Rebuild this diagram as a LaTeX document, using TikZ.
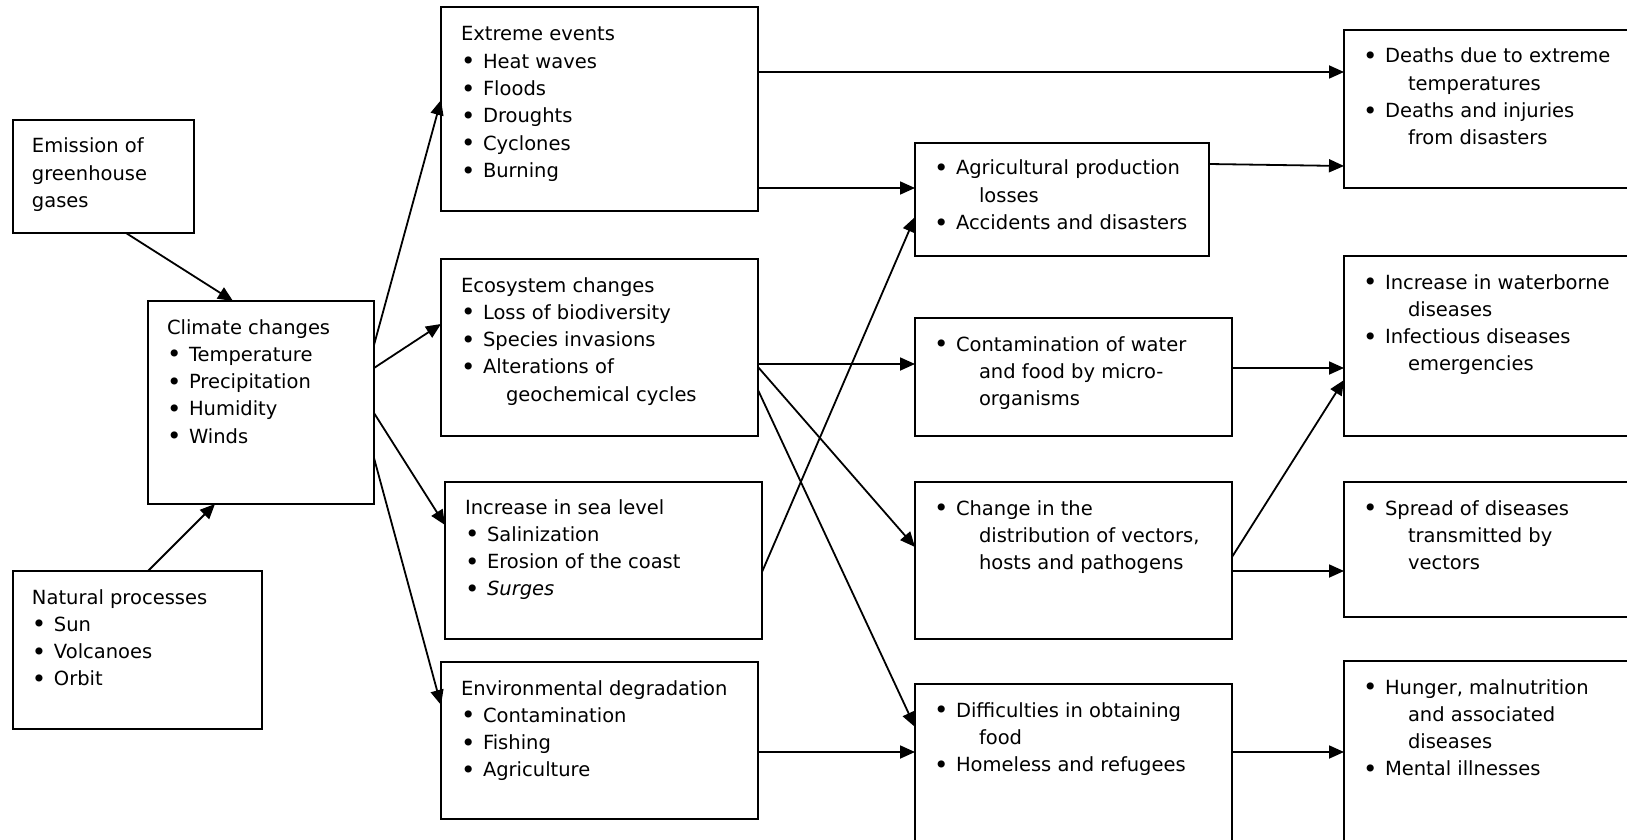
\documentclass[tikz,border=0pt]{standalone}
\usepackage{fontspec}
\usepackage{graphicx}
\setmainfont{DejaVu Sans}
\usetikzlibrary{calc,arrows.meta}
\tikzset{
  box/.style={draw, line width=0.9pt, anchor=north west, inner sep=0pt, outer sep=0pt},
  txt/.style={anchor=base west, inner sep=0pt, outer sep=0pt, font=\fontsize{9.75}{13.65}\selectfont},
  arr/.style={line width=0.9pt, -{Triangle[length=7.5pt,width=6.5pt]}},
  ln/.style={line width=0.9pt}
}
\newcommand\bl{\makebox[11pt][l]{\raisebox{-0.08em}{\scalebox{1.25}{\textbullet}}}}
\newcommand\ct{\hspace*{22.5pt}}
\newcommand\lst[1]{\begin{tabular}[t]{@{}l@{}}#1\end{tabular}}
\begin{document}
\begin{tikzpicture}[x=0.5pt,y=-0.5pt]
\useasboundingbox (0,0) rectangle (1627,840);
\clip (0,0) rectangle (1627,840);
\fill[white] (0,0) rectangle (1627,840);

% boxes
\node[box, minimum width=90.5pt, minimum height=56.5pt] (em) at (13,120) {};
\node[box, minimum width=113pt, minimum height=101.5pt] (cc) at (148,301) {};
\node[box, minimum width=124.5pt, minimum height=79pt] (np) at (13,571) {};
\node[box, minimum width=158.5pt, minimum height=102pt] (ee) at (441,7) {};
\node[box, minimum width=158.5pt, minimum height=88.5pt] (ec) at (441,259) {};
\node[box, minimum width=158.5pt, minimum height=78.5pt] (sl) at (445,482) {};
\node[box, minimum width=158.5pt, minimum height=78.5pt] (ed) at (441,662) {};
\node[box, minimum width=147pt, minimum height=56.5pt] (ag) at (915,143) {};
\node[box, minimum width=158.5pt, minimum height=59pt] (cw) at (915,318) {};
\node[box, minimum width=158.5pt, minimum height=78.5pt] (ch) at (915,482) {};
\node[box, minimum width=158.5pt, minimum height=100pt] (df) at (915,684) {};
\node[box, minimum width=200pt, minimum height=79pt] (dt) at (1344,30) {};
\node[box, minimum width=200pt, minimum height=90pt] (ib) at (1344,256) {};
\node[box, minimum width=200pt, minimum height=67.5pt] (sp) at (1344,482) {};
\node[box, minimum width=200pt, minimum height=125pt] (hm) at (1344,661) {};

% texts
\node[txt] (emT) at (32,153) {\lst{Emission of\\greenhouse\\gases}};
\node[txt] (ccT) at (167,334) {\lst{Climate changes\\\bl Temperature\\\bl Precipitation\\\bl Humidity\\\bl Winds}};
\node[txt] (npT) at (32,604) {\lst{Natural processes\\\bl Sun\\\bl Volcanoes\\\bl Orbit}};
\node[txt] (eeT) at (461,41) {\lst{Extreme events\\\bl Heat waves\\\bl Floods\\\bl Droughts\\\bl Cyclones\\\bl Burning}};
\node[txt] (ecT) at (461,292) {\lst{Ecosystem changes\\\bl Loss of biodiversity\\\bl Species invasions\\\bl Alterations of\\\ct geochemical cycles}};
\node[txt] (slT) at (465,514) {\lst{Increase in sea level\\\bl Salinization\\\bl Erosion of the coast\\\bl \textit{Surges}}};
\node[txt] (edT) at (461,695) {\lst{Environmental degradation\\\bl Contamination\\\bl Fishing\\\bl Agriculture}};
\node[txt] (agT) at (934,175) {\lst{\bl Agricultural production\\\ct losses\\\bl Accidents and disasters}};
\node[txt] (cwT) at (934,351) {\lst{\bl Contamination of water\\\ct and food by micro-\\\ct organisms}};
\node[txt] (chT) at (934,515) {\lst{\bl Change in the\\\ct distribution of vectors,\\\ct hosts and pathogens}};
\node[txt] (dfT) at (934,717) {\lst{\bl Difficulties in obtaining\\\ct food\\\bl Homeless and refugees}};
\node[txt] (dtT) at (1363,63) {\lst{\bl Deaths due to extreme\\\ct temperatures\\\bl Deaths and injuries\\\ct from disasters}};
\node[txt] (ibT) at (1363,289) {\lst{\bl Increase in waterborne\\\ct diseases\\\bl Infectious diseases\\\ct emergencies}};
\node[txt] (spT) at (1363,515) {\lst{\bl Spread of diseases\\\ct transmitted by\\\ct vectors}};
\node[txt] (hmT) at (1363,694) {\lst{\bl Hunger, malnutrition\\\ct and associated\\\ct diseases\\\bl Mental illnesses}};

% connectors
\draw[arr] ($(em.south west)+(113,0)$) -- ($(cc.north west)+(85,0)$);
\draw[arr] ($(np.north west)+(135,0)$) -- ($(cc.south west)+(67,0)$);
\draw[arr] ($(cc.north east)+(0,44)$) -- ($(ee.north west)+(0,93)$);
\draw[arr] ($(cc.north east)+(0,67)$) -- ($(ec.north west)+(0,65)$);
\draw[arr] ($(cc.north east)+(0,112)$) -- ($(sl.north west)+(0,43)$);
\draw[arr] ($(cc.north east)+(0,157)$) -- ($(ed.north west)+(0,43)$);
\draw[arr] ($(ee.north east)+(0,65)$) -- ($(dt.north west)+(0,42)$);
\draw[arr] ($(ee.north east)+(0,181)$) -- ($(ag.north west)+(0,45)$);
\draw[arr] ($(sl.north east)+(0,90)$) -- ($(ag.north west)+(0,74)$);
\draw[arr] ($(ag.north east)+(0,21)$) -- ($(dt.north west)+(0,136)$);
\draw[arr] ($(ec.north east)+(0,105)$) -- ($(cw.north west)+(0,46)$);
\draw[arr] ($(ec.north east)+(0,108)$) -- ($(ch.north west)+(0,65)$);
\draw[arr] ($(ec.north east)+(0,131)$) -- ($(df.north west)+(0,43)$);
\draw[arr] ($(ed.north east)+(0,90)$) -- ($(df.north west)+(0,68)$);
\draw[arr] ($(cw.north east)+(0,50)$) -- ($(ib.north west)+(0,112)$);
\draw[arr] ($(ch.north east)+(0,75)$) -- ($(ib.north west)+(0,124)$);
\draw[arr] ($(ch.north east)+(0,89)$) -- ($(sp.north west)+(0,89)$);
\draw[arr] ($(df.north east)+(0,68)$) -- ($(hm.north west)+(0,91)$);
\end{tikzpicture}
\end{document}
